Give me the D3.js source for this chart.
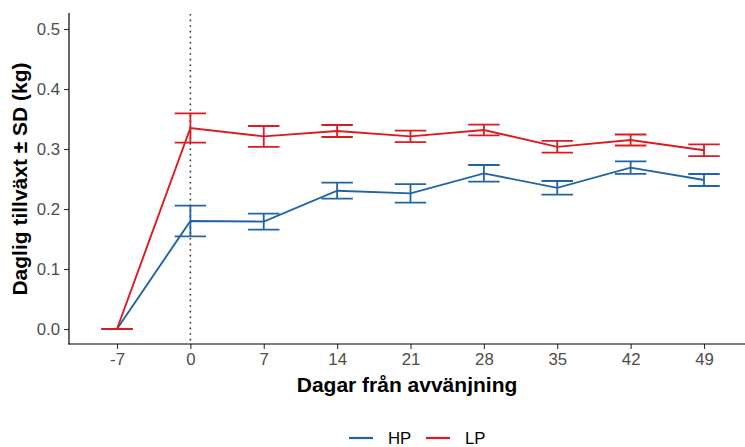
<!DOCTYPE html>
<html>
<head>
<meta charset="utf-8">
<script src="https://cdn.jsdelivr.net/npm/d3@7"></script>
<style>
  html, body { margin: 0; padding: 0; background: #fff; }
  svg { display: block; font-family: "Liberation Sans", Arial, sans-serif; }
</style>
</head>
<body>
<svg id="chart" width="745" height="447"></svg>
<script>
// ---- data ----
const days = [-7, 0, 7, 14, 21, 28, 35, 42, 49];
const hpMean = [0, 0.180, 0.179, 0.2305, 0.226, 0.2594, 0.2353, 0.269, 0.2483];
const hpSD   = [0, 0.0255, 0.0134, 0.0133, 0.0155, 0.0139, 0.0114, 0.0103, 0.0100];
const lpMean = [0, 0.335, 0.321, 0.330, 0.321, 0.3317, 0.3036, 0.315, 0.298];
const lpSD   = [0, 0.0243, 0.0173, 0.0100, 0.0095, 0.0089, 0.0098, 0.0092, 0.0098];
const xTicks = [-7, 0, 7, 14, 21, 28, 35, 42, 49];
const yTicks = [0, 0.1, 0.2, 0.3, 0.4, 0.5];
const seriesNames = ["HP", "LP"];
const colors = { HP: "#2064A6", LP: "#DD1A21" };
const xTitle = "Dagar från avvänjning";
const yTitle = "Daglig tillväxt ± SD (kg)";

const series = [
  { name: "HP", values: days.map((d, i) => ({ d, m: hpMean[i], sd: hpSD[i] })) },
  { name: "LP", values: days.map((d, i) => ({ d, m: lpMean[i], sd: lpSD[i] })) }
];

const svg = d3.select("#chart");
const panel = { left: 69, right: 745, top: 14, bottom: 344 };

const x = d3.scaleLinear().domain([-7, 49]).range([117, 704]);
const y = d3.scaleLinear().domain([-0.025, 0.525]).range([panel.bottom, panel.top]);

svg.append("defs").append("clipPath").attr("id", "clip")
  .append("rect").attr("x", panel.left).attr("y", 0)
  .attr("width", panel.right - panel.left).attr("height", panel.bottom + 1);

const g = svg.append("g").attr("clip-path", "url(#clip)");

// dotted vertical line at weaning
g.append("line")
  .attr("x1", x(0)).attr("x2", x(0))
  .attr("y1", panel.top).attr("y2", panel.bottom)
  .attr("stroke", "#333").attr("stroke-width", 1.6)
  .attr("stroke-dasharray", "1.6,4");

const line = d3.line().x(v => x(v.d)).y(v => y(v.m));

series.forEach(s => {
  g.append("path").datum(s.values)
    .attr("d", line).attr("fill", "none")
    .attr("stroke", colors[s.name]).attr("stroke-width", 1.9);
});

const capHalf = 1.5; // days
series.forEach(s => {
  const eg = g.append("g").attr("stroke", colors[s.name]).attr("stroke-width", 1.8).attr("fill", "none");
  s.values.forEach(v => {
    const p = d3.path();
    p.moveTo(x(v.d - capHalf), y(v.m + v.sd));
    p.lineTo(x(v.d + capHalf), y(v.m + v.sd));
    p.moveTo(x(v.d), y(v.m + v.sd));
    p.lineTo(x(v.d), y(v.m - v.sd));
    p.moveTo(x(v.d - capHalf), y(v.m - v.sd));
    p.lineTo(x(v.d + capHalf), y(v.m - v.sd));
    eg.append("path").attr("d", p.toString());
  });
});

// axes
const yAxis = d3.axisLeft(y).tickValues(yTicks).tickFormat(d3.format(".1f")).tickSize(5).tickPadding(4);
const ya = svg.append("g").attr("transform", `translate(${panel.left},0)`).call(yAxis);
const xAxis = d3.axisBottom(x).tickValues(xTicks).tickFormat(d3.format("d")).tickSize(5).tickPadding(4);
const xa = svg.append("g").attr("transform", `translate(0,${panel.bottom})`).call(xAxis);

[ya, xa].forEach(a => {
  a.select(".domain").remove();
  a.selectAll(".tick line").attr("stroke", "#333").attr("stroke-width", 1.1);
  a.selectAll(".tick text").attr("fill", "#4D4D4D").style("font-size", "16.8px");
});
xa.selectAll(".tick text").text(d => d < 0 ? "-" + Math.abs(d) : d);

svg.append("line").attr("x1", panel.left).attr("x2", panel.left)
  .attr("y1", panel.top - 1).attr("y2", panel.bottom + 0.5)
  .attr("stroke", "#000").attr("stroke-width", 1.2);
svg.append("line").attr("x1", panel.left - 0.5).attr("x2", panel.right)
  .attr("y1", panel.bottom).attr("y2", panel.bottom)
  .attr("stroke", "#000").attr("stroke-width", 1.2);

// titles
svg.append("text").attr("x", (panel.left + panel.right) / 2).attr("y", 392)
  .attr("text-anchor", "middle").style("font-size", "21px").style("font-weight", "bold")
  .text(xTitle);
svg.append("text").attr("transform", `translate(27,${(panel.top + panel.bottom) / 2}) rotate(-90)`)
  .attr("text-anchor", "middle").style("font-size", "21px").style("font-weight", "bold")
  .text(yTitle);

// legend
const legendX = [349, 426];
seriesNames.forEach((n, i) => {
  const lg = svg.append("g").attr("transform", `translate(${legendX[i]},438)`);
  lg.append("line").attr("x1", 0).attr("x2", 24).attr("y1", 0).attr("y2", 0)
    .attr("stroke", colors[n]).attr("stroke-width", 2.2);
  lg.append("text").attr("x", 39).attr("y", 6).style("font-size", "16.8px").attr("fill", "#000").text(n);
});
</script>
</body>
</html>
